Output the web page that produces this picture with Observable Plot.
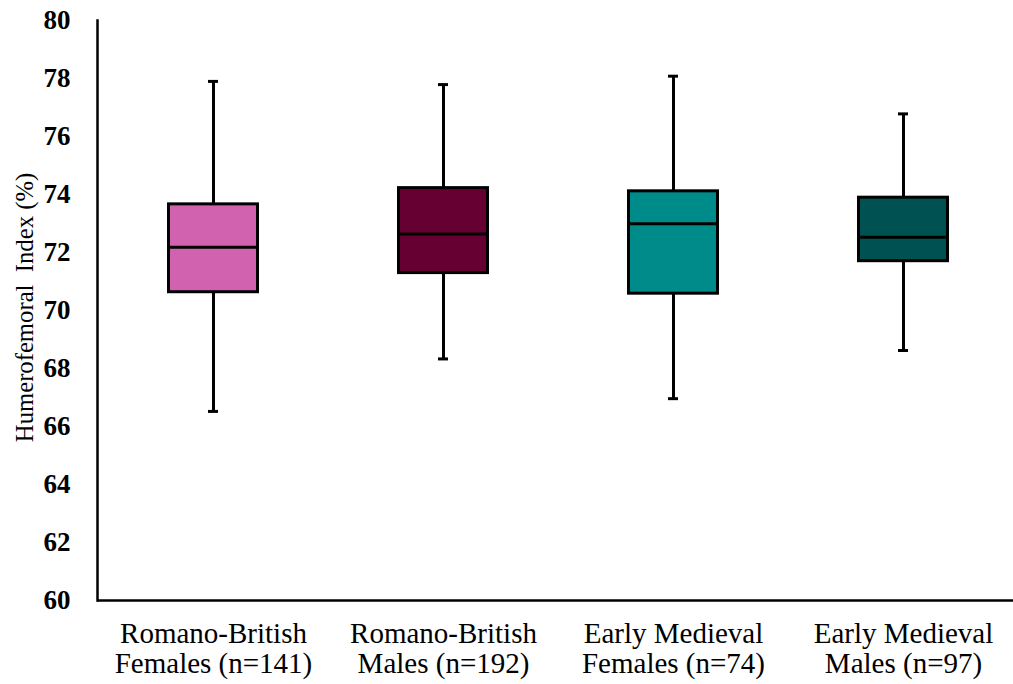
<!DOCTYPE html>
<html>
<head>
<meta charset="utf-8">
<script src="https://cdn.jsdelivr.net/npm/d3@7"></script>
<script src="https://cdn.jsdelivr.net/npm/@observablehq/plot@0.6"></script>
<style>
  html, body { margin: 0; padding: 0; background: #ffffff; }
</style>
</head>
<body>
<div id="chart"></div>
<script>
const categories = [
  "Romano-British\nFemales (n=141)",
  "Romano-British\nMales (n=192)",
  "Early Medieval\nFemales (n=74)",
  "Early Medieval\nMales (n=97)"
];
const whiskerLow  = [66.52, 68.33, 66.96, 68.62];
const quartile1   = [70.63, 71.29, 70.58, 71.70];
const medians     = [72.18, 72.64, 72.99, 72.53];
const quartile3   = [73.66, 74.22, 74.11, 73.89];
const whiskerHigh = [77.90, 77.79, 78.08, 76.78];
const boxColors   = ["#D062B0", "#660033", "#008B8B", "#005252"];
const yTicks      = [60, 62, 64, 66, 68, 70, 72, 74, 76, 78, 80];
const yTitle      = "Humerofemoral  Index (%)";

const data = categories.map((c, i) => ({
  cat: c, lo: whiskerLow[i], q1: quartile1[i], med: medians[i],
  q3: quartile3[i], hi: whiskerHigh[i], color: boxColors[i]
}));

const chart = Plot.plot({
  width: 1013,
  height: 684,
  marginLeft: 97,
  marginRight: 0,
  marginTop: 20,
  marginBottom: 84,
  style: { fontFamily: "'Liberation Serif', 'Times New Roman', serif", background: "#ffffff", color: "#000" },
  x: { domain: categories, range: [96.5, 1019.5], padding: 0, axis: null },
  y: { domain: [60, 80], axis: null },
  color: { type: "identity" },
  marks: [
    Plot.axisY({ ticks: yTicks, tickSize: 0, tickPadding: 27, fontSize: 27, fontWeight: "bold", label: null }),
    Plot.text([yTitle], { frameAnchor: "left", textAnchor: "middle", dx: -72, dy: -3, rotate: -90, fontSize: 24.7 }),
    Plot.axisX({ tickSize: 0, tickPadding: 21, fontSize: 29, lineHeight: 1.03, label: null }),
    Plot.ruleX(data, { x: "cat", y1: "lo", y2: "hi", stroke: "#000", strokeWidth: 3 }),
    Plot.tickY(data, { x: "cat", y: "lo", stroke: "#000", strokeWidth: 3, insetLeft: 110, insetRight: 110 }),
    Plot.tickY(data, { x: "cat", y: "hi", stroke: "#000", strokeWidth: 3, insetLeft: 110, insetRight: 110 }),
    Plot.barY(data, { x: "cat", y1: "q1", y2: "q3", fill: "color", stroke: "#000", strokeWidth: 3, insetLeft: 70.5, insetRight: 70.5 }),
    Plot.tickY(data, { x: "cat", y: "med", stroke: "#000", strokeWidth: 3, insetLeft: 70.5, insetRight: 70.5 }),
    Plot.frame({ anchor: "left", stroke: "#000", strokeWidth: 2.5 }),
    Plot.ruleY([60], { stroke: "#000", strokeWidth: 2.5 })
  ]
});
document.getElementById("chart").appendChild(chart);
</script>
</body>
</html>
